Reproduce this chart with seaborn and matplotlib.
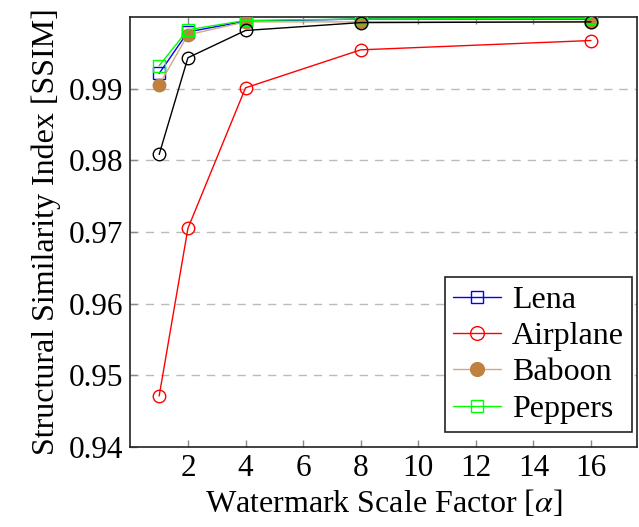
import matplotlib
matplotlib.use("Agg")
import matplotlib.pyplot as plt
import seaborn as sns
import pandas as pd

# factores de escala y SSIM por imagen
alpha = [1, 2, 4, 8, 16]
lena = [0.9921, 0.9979, 0.9994, 0.9997, 0.9997]
airplane = [0.9471, 0.9705, 0.9901, 0.9954, 0.9967]
baboon = [0.9905, 0.9975, 0.9993, 0.9993, 0.9993]
peppers = [0.9932, 0.9982, 0.9995, 0.9997, 0.9998]
otra = [0.9808, 0.9943, 0.9981, 0.9992, 0.9993]

y_ticks = [0.94, 0.95, 0.96, 0.97, 0.98, 0.99]
x_ticks = [2, 4, 6, 8, 10, 12, 14, 16]

sns.set_theme(style="white")
plt.rcParams["font.family"] = ["Liberation Serif", "DejaVu Serif"]
plt.rcParams["mathtext.fontset"] = "stix"
plt.rcParams["text.color"] = "black"
plt.rcParams["axes.labelcolor"] = "black"

fig = plt.figure(figsize=(6.39, 5.27), dpi=100)
ax = fig.add_axes([0.204, 0.152, 0.793, 0.816])

series = [
    ("Lena", lena, "blue", "blue", "s", "none"),
    ("Airplane", airplane, "red", "red", "o", "none"),
    ("Baboon", baboon, "#bf8040", "#d2aa80", "o", "#bf8040"),
    ("Peppers", peppers, "#00ff00", "#00ff00", "s", "none"),
    ("_nolegend_", otra, "black", "black", "o", "none"),
]

for nombre, valores, col_m, col_l, marca, relleno in series:
    df = pd.DataFrame({"alpha": alpha, "ssim": valores})
    sns.lineplot(data=df, x="alpha", y="ssim", ax=ax, color=col_l, lw=1.0,
                 marker=marca, markersize=9 if marca == "o" else 8,
                 markerfacecolor=relleno, markeredgecolor=col_m,
                 markeredgewidth=1.0, label=nombre, zorder=3)

ax.set_xlim(0, 17.6)
ax.set_ylim(0.94, 1.0)
ax.set_xticks(x_ticks)
ax.set_yticks(y_ticks)
ax.set_yticklabels([f"{v:.2f}" for v in y_ticks])
ax.yaxis.grid(True, color="#bbbbbb", linestyle=(0, (6, 5)), lw=1.0)
ax.xaxis.grid(False)
ax.tick_params(axis="both", direction="in", length=5, width=1, color="#888888",
               labelsize=22.5, top=True, right=False, left=True, bottom=True,
               pad=5, labelcolor="black")
for s in ax.spines.values():
    s.set_color("#222222")
    s.set_linewidth(1.2)

ax.set_xlabel(r"Watermark Scale Factor [$\alpha$]", fontsize=23, labelpad=4)
ax.set_ylabel("Structural Similarity Index [SSIM]", fontsize=23, labelpad=6)

leg = ax.legend(loc="lower right", bbox_to_anchor=(0.99, 0.035), fontsize=23,
                frameon=True, fancybox=False, edgecolor="#222222",
                borderpad=0.25, handlelength=1.5, handletextpad=0.35,
                labelspacing=0.22, borderaxespad=0.0, markerscale=1.1)
leg.get_frame().set_linewidth(1.2)
leg.get_frame().set_alpha(1)

fig.savefig("out.png", dpi=100)
